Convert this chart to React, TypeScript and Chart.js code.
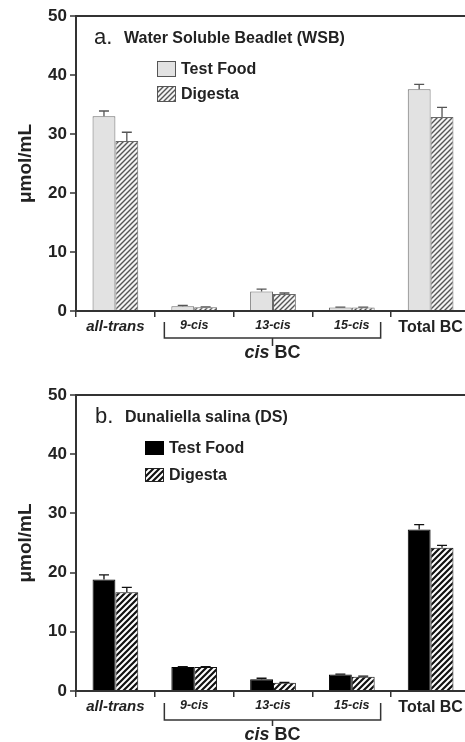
import React, { useEffect, useRef } from 'react';
import { Chart, registerables } from 'chart.js';

Chart.register(...registerables);

// ---- data ----
const categories = ['all-trans', '9-cis', '13-cis', '15-cis', 'Total BC'];
const seriesNames = ['Test Food', 'Digesta'];
const yTicks = [0, 10, 20, 30, 40, 50];

// panel a: Water Soluble Beadlet (WSB)
const wsbTestFood = [33.0, 0.8, 3.3, 0.6, 37.6];
const wsbTestFoodErr = [0.9, 0.15, 0.4, 0.05, 0.8];
const wsbDigesta = [28.8, 0.65, 2.9, 0.6, 32.9];
const wsbDigestaErr = [1.5, 0.05, 0.15, 0.05, 1.6];

// panel b: Dunaliella salina (DS)
const dsTestFood = [18.85, 4.05, 2.0, 2.8, 27.3];
const dsTestFoodErr = [0.75, 0.05, 0.15, 0.05, 0.8];
const dsDigesta = [16.7, 4.05, 1.4, 2.4, 24.2];
const dsDigestaErr = [0.8, 0.05, 0.05, 0.1, 0.4];

const FONT = '"Liberation Sans", Arial, Helvetica, sans-serif';

function makeHatch(bg: string, line: string, lw: number, size: number) {
  const c = document.createElement('canvas');
  c.width = size;
  c.height = size;
  const g = c.getContext('2d')!;
  g.fillStyle = bg;
  g.fillRect(0, 0, size, size);
  g.strokeStyle = line;
  g.lineWidth = lw;
  g.beginPath();
  g.moveTo(0, size);
  g.lineTo(size, 0);
  g.moveTo(-2, 2);
  g.lineTo(2, -2);
  g.moveTo(size - 2, size + 2);
  g.lineTo(size + 2, size - 2);
  g.stroke();
  return g.createPattern(c, 'repeat')!;
}

const decoPlugin = {
  id: 'panelDeco',
  afterDatasetsDraw(chart: any, _args: any, opts: any) {
    const ctx = chart.ctx;
    const y = chart.scales.y;
    const x = chart.scales.x;
    const area = chart.chartArea;
    ctx.save();

    // error bars (upper only)
    [opts.errTF, opts.errD].forEach((errs: number[], di: number) => {
      const meta = chart.getDatasetMeta(di);
      const vals = chart.data.datasets[di].data as number[];
      meta.data.forEach((el: any, i: number) => {
        const top = y.getPixelForValue(vals[i] + errs[i]);
        ctx.strokeStyle = opts.errColor;
        ctx.lineWidth = 1.3;
        ctx.beginPath();
        ctx.moveTo(el.x, el.y);
        ctx.lineTo(el.x, top);
        ctx.moveTo(el.x - 5, top);
        ctx.lineTo(el.x + 5, top);
        ctx.stroke();
      });
    });

    // title
    ctx.fillStyle = '#222';
    ctx.textBaseline = 'middle';
    ctx.textAlign = 'left';
    ctx.font = `22px ${FONT}`;
    ctx.fillText(opts.letter, opts.titleX, opts.titleY);
    ctx.font = `bold 16px ${FONT}`;
    ctx.fillText(opts.title, opts.titleX + 30, opts.titleY + 1);

    // legend
    const boxes = [
      { fill: opts.tfFill, stroke: opts.tfStroke, y: opts.legY1, label: seriesNames[0] },
      { fill: opts.dFill, stroke: opts.dStroke, y: opts.legY2, label: seriesNames[1] },
    ];
    boxes.forEach((b) => {
      ctx.fillStyle = b.fill;
      ctx.fillRect(opts.legX, b.y, opts.boxW, opts.boxH);
      ctx.strokeStyle = b.stroke;
      ctx.lineWidth = 1;
      ctx.strokeRect(opts.legX + 0.5, b.y + 0.5, opts.boxW - 1, opts.boxH - 1);
      ctx.fillStyle = '#222';
      ctx.font = `bold 16px ${FONT}`;
      ctx.fillText(b.label, opts.legX + opts.boxW + 5, b.y + opts.boxH / 2 + 1);
    });

    // bracket for cis BC
    const half = x.getPixelForValue(1) - x.getPixelForValue(0);
    const barHalf = (half * 0.58) / 2;
    const left = x.getPixelForValue(1) - barHalf - 7;
    const right = x.getPixelForValue(3) + barHalf + 6;
    const b0 = area.bottom + opts.brTop;
    const b1 = area.bottom + opts.brBottom;
    const mid = (left + right) / 2;
    ctx.strokeStyle = '#333';
    ctx.lineWidth = 1.5;
    ctx.beginPath();
    ctx.moveTo(left, b0);
    ctx.lineTo(left, b1);
    ctx.lineTo(right, b1);
    ctx.lineTo(right, b0);
    ctx.moveTo(mid, b1);
    ctx.lineTo(mid, b1 + opts.brTick);
    ctx.stroke();

    ctx.fillStyle = '#222';
    ctx.font = `italic bold 18px ${FONT}`;
    const w1 = ctx.measureText('cis').width;
    ctx.font = `bold 18px ${FONT}`;
    const w2 = ctx.measureText(' BC').width;
    const sx = mid - (w1 + w2) / 2;
    const ty = area.bottom + opts.cisY;
    ctx.font = `italic bold 18px ${FONT}`;
    ctx.fillText('cis', sx, ty);
    ctx.font = `bold 18px ${FONT}`;
    ctx.fillText(' BC', sx + w1, ty);

    ctx.restore();
  },
};

function tickFont(c: any) {
  const i = c.index;
  if (i === 0) return { family: FONT, size: 15, style: 'italic', weight: 'bold' };
  if (i === 4) return { family: FONT, size: 16, weight: 'bold' };
  return { family: FONT, size: 12.5, style: 'italic', weight: 'bold' };
}

function buildConfig(p: any) {
  return {
    type: 'bar',
    data: {
      labels: categories,
      datasets: [
        {
          label: seriesNames[0],
          data: p.tf,
          backgroundColor: p.tfFill,
          borderColor: p.tfStroke,
          borderWidth: 1,
          categoryPercentage: 0.58,
          barPercentage: 1,
        },
        {
          label: seriesNames[1],
          data: p.d,
          backgroundColor: p.dFill,
          borderColor: p.dStroke,
          borderWidth: 1,
          categoryPercentage: 0.58,
          barPercentage: 1,
        },
      ],
    },
    options: {
      animation: false,
      responsive: false,
      maintainAspectRatio: false,
      events: [],
      layout: { padding: { top: p.padTop, left: 0, right: 0, bottom: 0 } },
      plugins: {
        legend: { display: false },
        tooltip: { enabled: false },
        panelDeco: p.deco,
      },
      scales: {
        x: {
          grid: { offset: true, drawOnChartArea: false, tickLength: 6, color: '#333', lineWidth: 1.5 },
          border: { color: '#333', width: 2 },
          ticks: { font: tickFont, color: '#222', padding: 1, maxRotation: 0, autoSkip: false },
          afterFit: (s: any) => {
            s.height = p.xHeight;
          },
        },
        y: {
          min: 0,
          max: 50,
          afterBuildTicks: (s: any) => {
            s.ticks = yTicks.map((v) => ({ value: v }));
          },
          ticks: { font: { family: FONT, size: 17, weight: 'bold' }, color: '#222', padding: 3 },
          grid: {
            color: (c: any) => (c.tick && c.tick.value === 50 ? '#333' : 'rgba(0,0,0,0)'),
            tickColor: '#333',
            lineWidth: 2,
            tickWidth: 1.5,
            tickLength: 6,
          },
          border: { color: '#333', width: 2 },
          title: {
            display: true,
            text: 'μmol/mL',
            font: { family: FONT, size: 19, weight: 'bold' },
            color: '#222',
            padding: { top: 14, bottom: 0 },
          },
          afterFit: (s: any) => {
            s.width = 76;
          },
        },
      },
    },
    plugins: [decoPlugin],
  };
}

function Panel({ which, height }: { which: 'a' | 'b'; height: number }) {
  const ref = useRef<HTMLCanvasElement>(null);
  useEffect(() => {
    const cv = ref.current!;
    let p: any;
    if (which === 'a') {
      const tfFill = '#e2e2e2';
      const dFill = makeHatch('#f4f4f4', '#555', 1.4, 5);
      p = {
        tf: wsbTestFood,
        d: wsbDigesta,
        tfFill,
        tfStroke: '#6a6a6a',
        dFill,
        dStroke: '#6a6a6a',
        padTop: 16,
        xHeight: 59,
        deco: {
          errTF: wsbTestFoodErr,
          errD: wsbDigestaErr,
          errColor: '#555',
          letter: 'a.',
          title: 'Water Soluble Beadlet (WSB)',
          titleX: 94,
          titleY: 38,
          legX: 157,
          legY1: 61,
          legY2: 86,
          boxW: 19,
          boxH: 16,
          tfFill,
          tfStroke: '#555',
          dFill,
          dStroke: '#555',
          brTop: 11,
          brBottom: 27,
          brTick: 8,
          cisY: 42,
        },
      };
    } else {
      const tfFill = '#000';
      const dFill = makeHatch('#fff', '#111', 2.2, 6);
      p = {
        tf: dsTestFood,
        d: dsDigesta,
        tfFill,
        tfStroke: '#000',
        dFill,
        dStroke: '#111',
        padTop: 25,
        xHeight: 51,
        deco: {
          errTF: dsTestFoodErr,
          errD: dsDigestaErr,
          errColor: '#111',
          letter: 'b.',
          title: 'Dunaliella salina (DS)',
          titleX: 95,
          titleY: 47,
          legX: 145,
          legY1: 71,
          legY2: 98,
          boxW: 19,
          boxH: 14,
          tfFill,
          tfStroke: '#000',
          dFill,
          dStroke: '#222',
          brTop: 12,
          brBottom: 29,
          brTick: 6,
          cisY: 44,
        },
      };
    }
    const chart = new Chart(cv, buildConfig(p) as any);
    return () => chart.destroy();
  }, [which]);
  return <canvas ref={ref} width={470} height={height} style={{ display: 'block', width: 470, height }} />;
}

export default function App() {
  return (
    <div
      style={{
        position: 'absolute',
        left: 0,
        top: 0,
        width: 465,
        height: 742,
        overflow: 'hidden',
        background: '#fff',
      }}
    >
      <Panel which="a" height={370} />
      <Panel which="b" height={372} />
    </div>
  );
}
